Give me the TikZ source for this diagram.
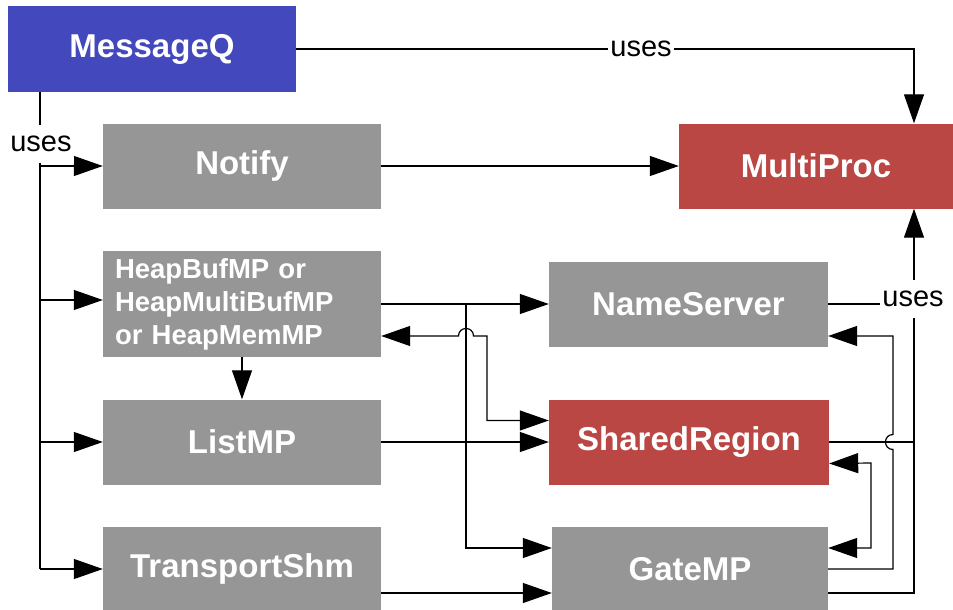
\documentclass[tikz,border=0pt]{standalone}
\usepackage{fontspec}
\setmainfont{Liberation Sans}
\usetikzlibrary{arrows.meta,calc}
\definecolor{mqblue}{RGB}{67,73,188}
\definecolor{boxgray}{RGB}{150,150,150}
\definecolor{boxred}{RGB}{186,71,68}
\begin{document}
\begin{tikzpicture}[x=1pt,y=-1pt,
  bx/.style={rectangle, inner sep=0pt, minimum width=278pt, minimum height=85pt,
    text=white, font=\fontsize{33}{38}\selectfont\bfseries},
  conn/.style={draw=black, line width=1.2pt},
  arr/.style={conn, -{Triangle[length=29pt,width=20pt]}},
  dbl/.style={conn, {Triangle[length=29pt,width=20pt]}-{Triangle[length=29pt,width=20pt]}},
  lbl/.style={fill=white, inner xsep=2pt, inner ysep=0pt, minimum height=38pt,
    font=\fontsize{29}{32}\selectfont}]
\useasboundingbox (0,0) rectangle (953,610);

% boxes
\node[bx, fill=mqblue, minimum width=288pt, minimum height=86pt] (mq) at (152,49) {MessageQ};
\node[bx, fill=boxgray] (notify) at (242,166) {Notify};
\node[bx, fill=boxred, minimum width=274pt] (mp) at (816,166) {MultiProc};
\node[bx, fill=boxgray, minimum height=106pt, text width=254pt, inner xsep=12pt,
  align=left, font=\fontsize{27.5}{33}\selectfont\bfseries] (heap) at (242,304)
  {HeapBufMP or\\HeapMultiBufMP\\or HeapMemMP};
\node[bx, fill=boxgray, minimum width=279pt] (ns) at (688.5,304) {NameServer};
\node[bx, fill=boxgray] (list) at (242,442) {ListMP};
\node[bx, fill=boxred, minimum width=280pt] (sr) at (689,442) {SharedRegion};
\node[bx, fill=boxgray, minimum height=84pt] (tshm) at (242,569) {TransportShm};
\node[bx, fill=boxgray, minimum width=276pt, minimum height=84pt] (gate) at (690,569) {GateMP};

% helper coordinates
\coordinate (trunk) at (40,0);
\coordinate (v1) at (466,0);
\coordinate (j1) at (466,336);
\coordinate (j2) at (893,442);
\coordinate (v3) at (914,0);
\coordinate (hl) at ([yshift=4pt]heap.west);

% MessageQ -> MultiProc
\draw[arr] (mq.east) -| ([xshift=98pt]mp.north);

% MessageQ trunk
\draw[conn] (trunk |- mq.south) -- (trunk |- tshm.west);
\draw[arr] (trunk |- notify.west) -- (notify.west);
\draw[arr] (trunk |- hl) -- (hl);
\draw[arr] (trunk |- list.west) -- (list.west);
\draw[arr] (trunk |- tshm.west) -- (tshm.west);

% Notify -> MultiProc
\draw[arr] (notify.east) -- (notify.east -| mp.west);

% Heap -> ListMP
\draw[arr] (heap.south) -- (list.north);

% Heap -> NameServer, GateMP
\draw[arr] (heap.east) -- (heap.east -| ns.west);
\draw[arr] (v1 |- heap.east) |- ([yshift=21pt]gate.west);

% Heap <-> SharedRegion
\draw[dbl] ([yshift=-32pt]heap.east) -- ([xshift=-7.5pt]j1)
  .. controls ([xshift=-7.5pt,yshift=10pt]j1) and ([xshift=7.5pt,yshift=10pt]j1) .. ([xshift=7.5pt]j1)
  -- (487,336) |- ([yshift=21.5pt]sr.west);

% ListMP -> SharedRegion
\draw[arr] (list.east) -- (list.east -| sr.west);

% TransportShm -> GateMP
\draw[arr] ([yshift=-24pt]tshm.east) -- ([yshift=-24pt]tshm.east -| gate.west);

% uses MultiProc (right side)
\draw[conn] (ns.east) -- (v3 |- ns.east);
\draw[conn] (sr.east) -- (v3 |- sr.east);
\draw[arr] ([yshift=-24pt]gate.east) -| ([xshift=98pt]mp.south);

% GateMP -> NameServer
\draw[arr] (gate.east) -| ([yshift=-7.5pt]j2)
  .. controls ([xshift=-10pt,yshift=-7.5pt]j2) and ([xshift=-10pt,yshift=7.5pt]j2) .. ([yshift=7.5pt]j2)
  |- ([yshift=-32pt]ns.east);

% SharedRegion <-> GateMP
\draw[dbl] ([yshift=-21.5pt]sr.east) -- (871,463) -- (871,548) -- ([yshift=21pt]gate.east);

% labels
\node[lbl] (u1) at (641,49) {uses};
\node[lbl] (u2) at (41,144) {uses};
\node[lbl] (u3) at (913,299) {uses};
\end{tikzpicture}
\end{document}
